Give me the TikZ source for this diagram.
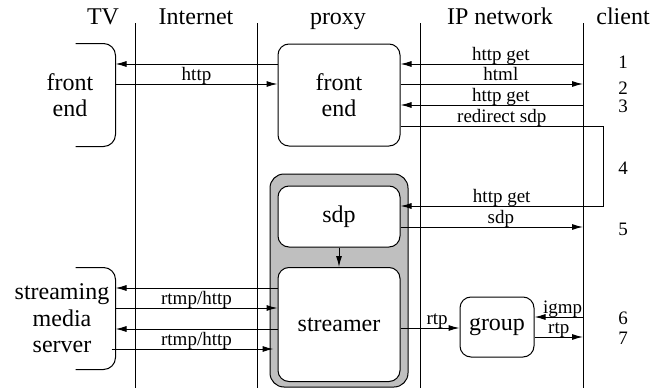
\documentclass[tikz,border=0pt]{standalone}
\usepackage{fontspec}
\setmainfont{Liberation Serif}
\usetikzlibrary{arrows.meta, positioning}
\newcommand{\hdfont}{\fontsize{24}{26.5}\selectfont}
\newcommand{\lblfont}{\fontsize{19}{21}\selectfont}

\begin{document}
\begin{tikzpicture}[>={Latex[length=11pt,width=6pt]}, x=1pt, y=-1pt, line width=1pt,
  box/.style={draw, rounded corners=11pt, align=center, font=\hdfont},
  lbl/.style={anchor=base, yshift=4pt, inner sep=0pt, font=\lblfont}]
\useasboundingbox (0,0) rectangle (665,388);
%
\node[anchor=base, font=\hdfont] (tv) at (103,24) {TV};
\node[anchor=base, font=\hdfont] (inet) at (196,24) {Internet};
\node[anchor=base, font=\hdfont] (proxy) at (338,24) {proxy};
\node[anchor=base, font=\hdfont] (ipnet) at (500,24) {IP network};
\node[anchor=base, font=\hdfont] (client) at (623,24) {client};
\foreach \x/\n in {135/ln1, 257/ln2, 420/ln3, 583/ln4}
  \draw (\x,23) coordinate (\n) -- (\x,388);
%
\node[draw, fill=black!25, rounded corners=14pt, minimum width=138pt, minimum height=213pt] (cont) at (339,280.5) {};
\node[box, fill=white, minimum width=122pt, minimum height=102pt] (pxfe) at (339,95) {front\\end};
\node[box, fill=white, minimum width=122pt, minimum height=61pt] (sdp) at (339,216.5) {sdp};
\node[box, fill=white, minimum width=122pt, minimum height=114pt] (strm) at (339,324.5) {streamer};
\node[box, fill=white, minimum width=74pt, minimum height=60pt] (group) at (497,327) {group};
%
\node[align=center, font=\hdfont, minimum width=90pt, minimum height=102pt] (tvfe) at (70,95) {front\\end};
\node[align=center, font=\hdfont, minimum width=106pt, minimum height=101pt] (sms) at (62,318.5) {streaming\\media\\server};
\draw[rounded corners=12pt] ([xshift=-40pt]tvfe.north east) -- (tvfe.north east) -- (tvfe.south east) -- ([xshift=-40pt]tvfe.south east);
\draw[rounded corners=12pt] ([xshift=-40pt]sms.north east) -- (sms.north east) -- (sms.south east) -- ([xshift=-40pt]sms.south east);
%
\draw[<-] (tvfe.east |- 0,64) -- (pxfe.west |- 0,64);
\draw[->] (tvfe.east |- 0,84) -- node[lbl]{http} (pxfe.west |- 0,84);
\draw[<-] (pxfe.east |- 0,64) -- node[lbl, pos=0.55]{http get} (ln4 |- 0,64);
\draw[->] (pxfe.east |- 0,84) -- node[lbl, pos=0.55]{html} (ln4 |- 0,84);
\draw[<-] (pxfe.east |- 0,105) -- node[lbl, pos=0.55]{http get} (ln4 |- 0,105);
\coordinate (turn) at (603,126);
\draw[->] (pxfe.east |- turn) -- node[lbl]{redirect sdp} (turn) -- (turn |- 0,206) -- node[lbl]{http get} (sdp.east |- 0,206);
\draw[->] (sdp.east |- 0,227) -- node[lbl, pos=0.55]{sdp} (ln4 |- 0,227);
\draw[->] (sdp) -- (strm);
%
\draw[<-] (sms.east |- 0,288) -- (strm.west |- 0,288);
\draw[->] (sms.east |- 0,308) -- node[lbl]{rtmp/http} (strm.west |- 0,308);
\draw[<-] (sms.east |- 0,329) -- (strm.west |- 0,329);
\draw[->, shorten <=-4pt, shorten >=4pt] (sms.east |- 0,349) -- node[lbl]{rtmp/http} (strm.west |- 0,349);
\draw[->] (strm.east |- 0,328) -- node[lbl, pos=0.62]{rtp} (group.west |- 0,328);
\draw[<-] (group.east |- 0,317) -- node[lbl, pos=0.58]{igmp} (ln4 |- 0,317);
\draw[->] (group.east |- 0,337) -- node[lbl]{rtp} (ln4 |- 0,337);
%
\foreach \k/\y in {1/62, 2/88, 3/106, 4/168, 5/229, 6/318, 7/338}
  \node[font=\lblfont] (n\k) at (623,\y) {\k};
\end{tikzpicture}
\end{document}
